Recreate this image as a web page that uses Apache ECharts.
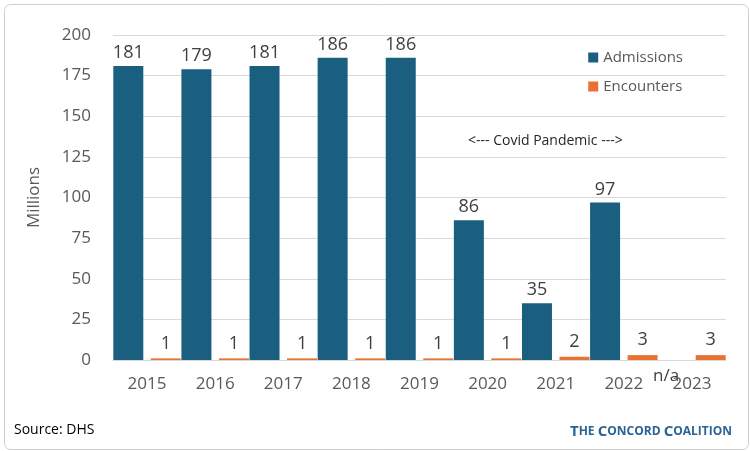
<!DOCTYPE html>
<html><head><meta charset="utf-8">
<script src="https://cdn.jsdelivr.net/npm/echarts@6/dist/echarts.min.js"></script>
<style>html,body{margin:0;padding:0;background:#fff}#c{width:750px;height:451px}</style>
</head><body><div id="c"></div>
<script>
// chart data
const years = ['2015','2016','2017','2018','2019','2020','2021','2022','2023'];
const admissions = [181, 179, 181, 186, 186, 86, 35, 97, null];
const encounters = [1, 1, 1, 1, 1, 1, 2, 3, 3];
const yTicks = [0, 25, 50, 75, 100, 125, 150, 175, 200];

const chart = echarts.init(document.getElementById('c'));
const font = 'Open Sans, Noto Sans, sans-serif';
chart.setOption({
  animation: false,
  textStyle: {fontFamily: font},
  grid: {left: 113, right: 24, top: 35, bottom: 91},
  legend: {
    orient: 'vertical', right: 62, top: 45, itemGap: 14,
    itemWidth: 10, itemHeight: 10, icon: 'rect',
    textStyle: {fontSize: 15, color: '#595959', fontFamily: font},
    data: ['Admissions', 'Encounters']
  },
  xAxis: {
    type: 'category', data: years,
    axisTick: {show: false},
    axisLine: {lineStyle: {color: '#d9d9d9'}},
    axisLabel: {fontSize: 17, color: '#595959', margin: 16}
  },
  yAxis: {
    type: 'value', min: yTicks[0], max: yTicks[yTicks.length - 1], interval: 25,
    name: 'Millions', nameLocation: 'middle', nameGap: 70,
    nameTextStyle: {fontSize: 17, color: '#595959'},
    axisLabel: {fontSize: 17, color: '#595959', margin: 22},
    splitLine: {lineStyle: {color: '#d9d9d9'}}
  },
  series: [
    {
      name: 'Admissions', type: 'bar', data: admissions, barWidth: 30, barGap: '25%',
      itemStyle: {color: '#1a5e80'},
      label: {show: true, position: 'top', fontSize: 18, color: '#404040', distance: 4}
    },
    {
      name: 'Encounters', type: 'bar', data: encounters, barWidth: 30,
      itemStyle: {color: '#e97132'},
      label: {show: true, position: 'top', fontSize: 18, color: '#404040', distance: 6}
    }
  ],
  graphic: [
    {type: 'rect', left: 2, top: 2, shape: {width: 744, height: 445, r: 6},
     style: {fill: 'none', stroke: '#d0d0d0', lineWidth: 1}},
    {type: 'text', left: 468, top: 134,
     style: {text: '<--- Covid Pandemic --->', fontSize: 14, fill: '#262626', fontFamily: font}},
    {type: 'text', left: 653, top: 368,
     style: {text: 'n/a', fontSize: 17, fill: '#404040', fontFamily: font}},
    {type: 'text', left: 14, top: 423,
     style: {text: 'Source: DHS', fontSize: 14, fill: '#000', fontFamily: font}},
    {type: 'text', right: 18, top: 424,
     style: {
       text: '{b|T}{s|HE }{b|C}{s|ONCORD }{b|C}{s|OALITION}',
       rich: {
         b: {fontSize: 15, fontWeight: 'bold', fill: '#2a6496', fontFamily: font},
         s: {fontSize: 12, fontWeight: 'bold', fill: '#2a6496', fontFamily: font}
       }
     }}
  ]
});
</script>
</body></html>
